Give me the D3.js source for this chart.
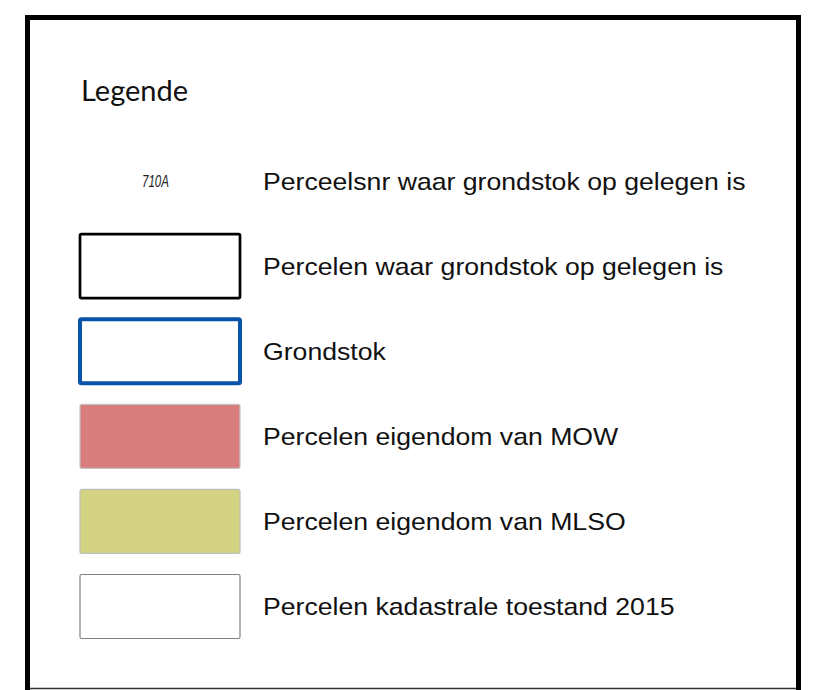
<!DOCTYPE html>
<html>
<head>
<meta charset="utf-8">
<script src="https://d3js.org/d3.v7.min.js"></script>
<style>
  body { margin: 0; background: #fff; }
  svg { display: block; }
</style>
</head>
<body>
<svg width="823" height="690"></svg>
<script>
// legend content
var title = "Legende";
var labels = [
  "Perceelsnr waar grondstok op gelegen is",
  "Percelen waar grondstok op gelegen is",
  "Grondstok",
  "Percelen eigendom van MOW",
  "Percelen eigendom van MLSO",
  "Percelen kadastrale toestand 2015"
];
var symbolType = ["text", "rect", "rect", "rect", "rect", "rect"];
var symbolText = ["710A", "", "", "", "", ""];
var fills = ["none", "#ffffff", "#ffffff", "#d87e7c", "#d4d383", "#ffffff"];
var strokes = ["none", "#000000", "#0753a9", "#c4c4c4", "#bdbdbd", "#808080"];
var strokeWidths = [0, 2.7, 4, 1.2, 1.2, 1.2];

var svg = d3.select("svg"),
  width = +svg.attr("width"),
  height = +svg.attr("height");

// outer frame (cut off at the bottom)
svg.append("rect")
  .attr("x", 27.5)
  .attr("y", 17.5)
  .attr("width", 771)
  .attr("height", 700)
  .attr("fill", "none")
  .attr("stroke", "#000")
  .attr("stroke-width", 5);

svg.append("line")
  .attr("x1", 30).attr("x2", 796)
  .attr("y1", 688.5).attr("y2", 688.5)
  .attr("stroke", "#333")
  .attr("stroke-width", 1.5);

svg.append("text")
  .attr("x", 81)
  .attr("y", 101)
  .style("font-family", "Lato, 'Open Sans', sans-serif")
  .style("font-size", "29px")
  .attr("fill", "#111")
  .text(title);

// rows
var y = d3.scalePoint()
  .domain(labels)
  .range([181, 606.5]);

var rows = svg.selectAll("g.row")
  .data(labels)
  .enter()
  .append("g")
  .attr("class", "row")
  .attr("transform", function (d) { return "translate(0," + y(d) + ")"; });

rows.filter(function (d, i) { return symbolType[i] === "rect"; })
  .append("rect")
  .attr("x", 80)
  .attr("y", -32)
  .attr("width", 160)
  .attr("height", 64)
  .attr("rx", 1.5)
  .attr("fill", function (d) { return fills[labels.indexOf(d)]; })
  .attr("stroke", function (d) { return strokes[labels.indexOf(d)]; })
  .attr("stroke-width", function (d) { return strokeWidths[labels.indexOf(d)]; });

rows.filter(function (d, i) { return symbolType[i] === "text"; })
  .append("text")
  .attr("x", 155.5)
  .attr("y", 5.5)
  .attr("text-anchor", "middle")
  .attr("textLength", 27)
  .attr("lengthAdjust", "spacingAndGlyphs")
  .style("font-family", "'Liberation Sans', Arial, sans-serif")
  .style("font-style", "italic")
  .style("font-size", "16px")
  .attr("fill", "#222")
  .text(function (d) { return symbolText[labels.indexOf(d)]; });

// labels are a bit wider than plain Arial, stretch them
rows.append("text")
  .attr("transform", "translate(263,8.5) scale(1.11,1)")
  .style("font-family", "'Liberation Sans', Arial, sans-serif")
  .style("font-size", "24px")
  .attr("fill", "#111")
  .text(function (d) { return d; });
</script>
</body>
</html>
